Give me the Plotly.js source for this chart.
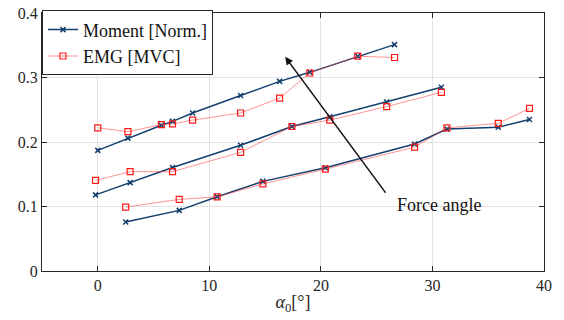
<!DOCTYPE html>
<html>
<head>
<meta charset="utf-8">
<script src="https://cdn.plot.ly/plotly-3.0.1.min.js"></script>
<style>html,body{margin:0;padding:0;background:#fff;}#chart{width:564px;height:320px;}</style>
</head>
<body>
<div id="chart"></div>
<script>
// Group 1 (top)
const x1 = [0, 2.7, 5.7, 6.7, 8.5, 12.8, 16.3, 19.0, 23.3, 26.6];
const moment1 = [0.187, 0.206, 0.226, 0.232, 0.245, 0.272, 0.294, 0.308, 0.333, 0.351];
const emg1 = [0.222, 0.216, 0.227, 0.228, 0.234, 0.245, 0.268, 0.307, 0.333, 0.331];
// Group 2 (middle)
const x2 = [-0.2, 2.9, 6.7, 12.8, 17.4, 20.8, 25.9, 30.8];
const moment2 = [0.118, 0.137, 0.1605, 0.195, 0.224, 0.239, 0.262, 0.285];
const emg2 = [0.1405, 0.154, 0.154, 0.184, 0.224, 0.234, 0.255, 0.277];
// Group 3 (bottom)
const x3 = [2.5, 7.3, 10.7, 14.8, 20.4, 28.4, 31.3, 35.9, 38.7];
const moment3 = [0.076, 0.094, 0.115, 0.139, 0.160, 0.197, 0.220, 0.223, 0.235];
const emg3 = [0.099, 0.111, 0.115, 0.135, 0.158, 0.192, 0.222, 0.229, 0.252];

const seriesNames = ['Moment [Norm.]', 'EMG [MVC]'];
const xTicks = [0, 10, 20, 30, 40];
const yTicks = [0, 0.1, 0.2, 0.3, 0.4];
const yTickText = ['0', '0.1', '0.2', '0.3', '0.4'];
const arrowTail = [25.9, 0.119];
const arrowHead = [16.8, 0.332];
const labelPos = [30.6, 0.102];
const labelText = 'Force angle';

function joinGroups(groups) {
  const out = [];
  groups.forEach((g, i) => { if (i > 0) out.push(null); out.push(...g); });
  return out;
}
const xAll = joinGroups([x1, x2, x3]);
const momentAll = joinGroups([moment1, moment2, moment3]);
const emgAll = joinGroups([emg1, emg2, emg3]);

const serif = 'Liberation Serif, DejaVu Serif, serif';

const traces = [
  {
    x: xAll, y: momentAll, name: seriesNames[0], type: 'scatter', mode: 'lines+markers',
    connectgaps: false,
    line: {color: '#123f6e', width: 1.5},
    marker: {symbol: 'x-thin-open', size: 5, color: '#123f6e', line: {color: '#123f6e', width: 1.5}}
  },
  {
    x: xAll, y: emgAll, name: seriesNames[1], type: 'scatter', mode: 'lines+markers',
    connectgaps: false,
    line: {color: 'rgba(255,60,60,0.55)', width: 1},
    marker: {symbol: 'square-open', size: 6, color: '#ff1a1a', line: {color: '#ff1a1a', width: 1.2}}
  }
];

const axisCommon = {
  showline: true, linecolor: '#262626', linewidth: 1, mirror: 'allticks',
  ticks: 'inside', ticklen: 5, tickcolor: '#262626',
  showgrid: true, gridcolor: '#e3e3e3', gridwidth: 1, zeroline: false,
  tickfont: {family: serif, size: 16, color: '#262626'}
};

const layout = {
  width: 564, height: 320,
  margin: {l: 42, r: 20, t: 10, b: 49},
  paper_bgcolor: '#fff', plot_bgcolor: '#fff',
  showlegend: true,
  legend: {
    x: 0, y: 1.01, xanchor: 'left', yanchor: 'top',
    bgcolor: '#fff', bordercolor: '#262626', borderwidth: 1,
    font: {family: serif, size: 18, color: '#111'},
    itemwidth: 30, tracegroupgap: 0
  },
  xaxis: Object.assign({}, axisCommon, {
    range: [-5, 40], tickvals: xTicks,
    title: {text: '<i>α</i><sub>0</sub>[°]', font: {family: serif, size: 18, color: '#262626'}, standoff: 2}
  }),
  yaxis: Object.assign({}, axisCommon, {
    range: [0, 0.4], tickvals: yTicks, ticktext: yTickText
  }),
  annotations: [
    {
      x: arrowHead[0], y: arrowHead[1], ax: arrowTail[0], ay: arrowTail[1],
      xref: 'x', yref: 'y', axref: 'x', ayref: 'y',
      text: '', showarrow: true, arrowhead: 2, arrowsize: 1.2, arrowwidth: 1.3,
      arrowcolor: '#111', standoff: 0, startstandoff: 0
    },
    {
      x: labelPos[0], y: labelPos[1], xref: 'x', yref: 'y',
      text: labelText, showarrow: false,
      font: {family: serif, size: 18, color: '#111'}
    }
  ]
};

Plotly.newPlot('chart', traces, layout, {displayModeBar: false, staticPlot: true});
</script>
</body>
</html>
